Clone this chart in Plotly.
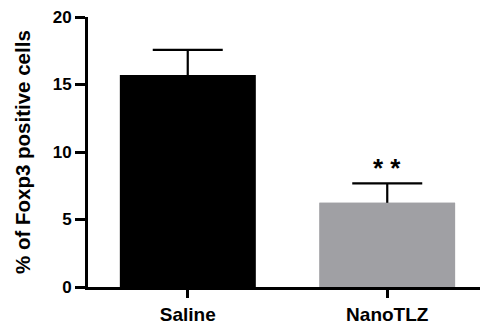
import plotly.graph_objects as go

categories = ["Saline", "NanoTLZ"]
means = [15.7, 6.24]
errors_up = [1.86, 1.44]
bar_colors = ["#000000", "#a0a0a4"]
y_ticks = [0, 5, 10, 15, 20]
sig_label = "* *"

fig = go.Figure()
# under-layer bars carrying the error bars (lower half hidden by the top layer)
fig.add_trace(go.Bar(
    x=categories, y=means, width=0.68,
    marker=dict(color=bar_colors, line=dict(width=0)),
    error_y=dict(type="data", symmetric=True, array=errors_up,
                 color="black", thickness=2.2, width=35),
    hoverinfo="skip",
))
fig.add_trace(go.Bar(
    x=categories, y=means, width=0.68,
    marker=dict(color=bar_colors, line=dict(width=0)),
))

fig.add_annotation(x=categories[1], y=means[1] + errors_up[1], yref="y", xref="x",
                   text=sig_label, showarrow=False, yanchor="middle", yshift=15,
                   font=dict(family="Arial", size=26, color="black", weight="bold"))

fig.add_annotation(x=0, y=0.5, xref="paper", yref="paper", xshift=-66,
                   text="<b>% of Foxp3 positive cells</b>", textangle=-90,
                   showarrow=False, xanchor="center", yanchor="middle",
                   font=dict(family="Arial", size=20.5, color="black"))

fig.update_layout(
    width=480, height=318,
    margin=dict(l=80, r=1, t=9, b=39),
    paper_bgcolor="white", plot_bgcolor="white",
    showlegend=False, barmode="overlay",
    font=dict(family="Arial", color="black"),
    xaxis=dict(type="category", range=[-0.5, 1.5], showline=True, linecolor="black",
               linewidth=3, ticks="outside", ticklen=8, tickwidth=3, tickcolor="black",
               showgrid=False, zeroline=False, ticklabeloverflow="allow",
               tickfont=dict(family="Arial", size=19, color="black", weight="bold")),
    yaxis=dict(range=[0, 20], tickvals=y_ticks, showline=True, linecolor="black",
               linewidth=3, ticks="outside", ticklen=10, tickwidth=3, tickcolor="black",
               showgrid=False, zeroline=False, ticklabeloverflow="allow",
               tickfont=dict(family="Arial", size=17, color="black", weight="bold")),
)

fig.write_html("out.html")
